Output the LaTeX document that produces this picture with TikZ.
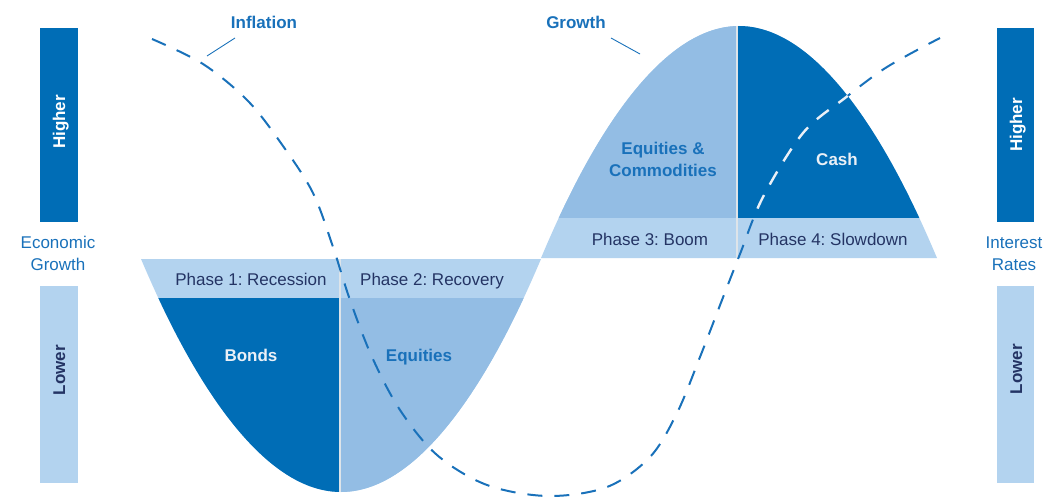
\documentclass[tikz,border=0pt]{standalone}
\usepackage{fontspec}
\setmainfont{Liberation Sans}
\frenchspacing
\definecolor{cdark}{RGB}{0,109,182}
\definecolor{cmid}{RGB}{147,189,228}
\definecolor{cband}{RGB}{179,211,239}
\definecolor{cnavy}{RGB}{36,52,100}
\definecolor{cblue}{RGB}{25,113,186}
\definecolor{cdiv}{RGB}{222,228,233}
\definecolor{cwtxt}{RGB}{234,240,247}
\begin{document}
\begin{tikzpicture}[x=1pt,y=-1pt,
  txt/.style={font=\fontsize{17}{20}\selectfont, inner sep=0pt, text height=12.2pt, text depth=0pt},
  btxt/.style={font=\fontsize{17}{20}\selectfont\bfseries, inner sep=0pt, text height=12.2pt, text depth=0pt},
  divline/.style={draw=cdiv, line width=2.6pt},
  dashcurve/.style={draw=cblue, line width=2pt, dash pattern=on 15pt off 12pt},
  leader/.style={draw=cblue, line width=0.9pt}]
\useasboundingbox (0,0) rectangle (1046,497);
% side bars
\fill[cdark] (40,28) rectangle (78,222);
\fill[cband] (40,286) rectangle (78,483);
\fill[cdark] (997,28) rectangle (1034,222);
\fill[cband] (997,286) rectangle (1034,483);
\node[btxt, text=white, rotate=90] (hl) at (59,122) {Higher};
\node[btxt, text=cnavy, rotate=90] (ll) at (59,370) {Lower};
\node[btxt, text=white, rotate=90] (hr) at (1016,125) {Higher};
\node[btxt, text=cnavy, rotate=90] (lr) at (1016,369) {Lower};
\node[txt, text=cblue] (eg1) at (58,242) {Economic};
\node[txt, text=cblue] (eg2) at (58,264) {Growth};
\node[txt, text=cblue] (ir1) at (1014,242) {Interest};
\node[txt, text=cblue] (ir2) at (1014,264) {Rates};
% trough
\fill[cband] (141,259) parabola bend (341,492) (541,259) -- cycle;
\begin{scope}
  \clip (141,259) parabola bend (341,492) (541,259) -- cycle;
  \fill[cdark] (100,298) rectangle (340,500);
  \fill[cmid] (340,298) rectangle (560,500);
  \draw[divline] (340,255) -- (340,500);
\end{scope}
% hump
\fill[cband] (541,258) parabola bend (739,26) (937,258) -- cycle;
\begin{scope}
  \clip (541,258) parabola bend (739,26) (937,258) -- cycle;
  \fill[cmid] (520,0) rectangle (737,218);
  \fill[cdark] (737,0) rectangle (960,218);
  \draw[divline] (737,0) -- (737,262);
\end{scope}
% dashed curve
\def\dcurve{plot[smooth, tension=0.55] coordinates {(152,39) (203,64) (248,101) (283,146) (313,193) (333,247) (350,300) (372,357) (400,410) (437,455) (487,485) (548,496) (607,487) (650,457) (677,413) (700,357) (722,300) (740,254) (763,197) (803,133) (845,98) (887,67) (940,38)}}
\draw[dashcurve] \dcurve;
\begin{scope}
  \clip (541,258) parabola bend (739,26) (937,258) -- cycle;
  \clip (738.5,0) rectangle (960,218);
  \draw[dashcurve, draw=cwtxt, line width=2.4pt] \dcurve;
\end{scope}
% labels
\node[txt, text=cnavy] (p1) at (251,279) {Phase 1: Recession};
\node[txt, text=cnavy] (p2) at (432,279) {Phase 2: Recovery};
\node[txt, text=cnavy] (p3) at (650,239) {Phase 3: Boom};
\node[txt, text=cnavy] (p4) at (833,239) {Phase 4: Slowdown};
\node[btxt, text=cwtxt] (bonds) at (251,355) {Bonds};
\node[btxt, text=cblue] (eq) at (419,355) {Equities};
\node[btxt, text=cblue] (eqc1) at (663,148) {Equities \&};
\node[btxt, text=cblue] (eqc2) at (663,170) {Commodities};
\node[btxt, text=cwtxt] (cash) at (837,159) {Cash};
\node[btxt, text=cblue] (infl) at (264,22) {Inflation};
\node[btxt, text=cblue] (grow) at (576,22) {Growth};
\coordinate (infA) at (235,38);
\coordinate (infB) at (207,56);
\coordinate (grA) at (611,38);
\coordinate (grB) at (640,54);
\draw[leader] (infA) -- (infB);
\draw[leader] (grA) -- (grB);
\end{tikzpicture}
\end{document}
